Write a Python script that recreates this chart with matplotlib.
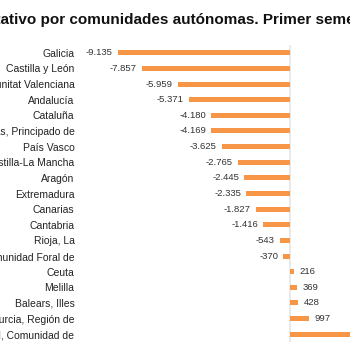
import matplotlib
matplotlib.use("Agg")
import matplotlib.pyplot as plt

plt.rcParams['font.family'] = ['Liberation Sans', 'DejaVu Sans']

title = "Crecimiento vegetativo por comunidades autónomas. Primer semestre 2019"
hidden_prefix = "Crecimiento veget"

categories = [
    "Galicia", "Castilla y León", "Comunitat Valenciana", "Andalucía", "Cataluña",
    "Asturias, Principado de", "País Vasco", "Castilla-La Mancha", "Aragón",
    "Extremadura", "Canarias", "Cantabria", "Rioja, La", "Navarra, Comunidad Foral de",
    "Ceuta", "Melilla", "Balears, Illes", "Murcia, Región de", "Madrid, Comunidad de",
]
values = [-9135, -7857, -5959, -5371, -4180, -4169, -3625, -2765, -2445,
          -2335, -1827, -1416, -543, -370, 216, 369, 428, 997, 4025]
value_labels = ["-9.135", "-7.857", "-5.959", "-5.371", "-4.180", "-4.169", "-3.625",
                "-2.765", "-2.445", "-2.335", "-1.827", "-1.416", "-543", "-370",
                "216", "369", "428", "997", "4.025"]

W = H = 350
dpi = 100
fig = plt.figure(figsize=(W / dpi, H / dpi), dpi=dpi)

px_per_unit = 18.85 / 1000
left_px, zero_px, top_px, bot_px = 80, 290, 45, 342
xmin = -(zero_px - left_px) / px_per_unit
xmax = 6000
right_px = zero_px + xmax * px_per_unit
ax = fig.add_axes([left_px / W, 1 - bot_px / H, (right_px - left_px) / W, (bot_px - top_px) / H])

y = list(range(len(categories)))
ax.barh(y, values, height=0.32, color="#F79646", zorder=2)
ax.set_xlim(xmin, xmax)
ax.set_ylim(len(categories) - 0.5, -0.5)
ax.axvline(0, color="#e6e6e6", lw=1.2, zorder=1)

for s in ax.spines.values():
    s.set_visible(False)
ax.set_xticks([])
ax.set_yticks(y)
ax.set_yticklabels(categories, fontsize=7.5, color="#222222")
ax.tick_params(axis='y', length=0, pad=4)

for yi, v, lab in zip(y, values, value_labels):
    if v < 0:
        ax.annotate(lab, (v, yi), xytext=(-3.5, 0), textcoords="offset points",
                    ha="right", va="center", fontsize=6.8, color="#333333")
    else:
        ax.annotate(lab, (v, yi), xytext=(4, 0), textcoords="offset points",
                    ha="left", va="center", fontsize=6.8, color="#333333")

renderer = fig.canvas.get_renderer()
tsize = 10.95
tmp = fig.text(0, 0, hidden_prefix, fontsize=tsize, fontweight="bold")
wpx = tmp.get_window_extent(renderer).width
tmp.remove()
fig.text((1 - wpx) / W, 1 - 24 / H, title, fontsize=tsize, fontweight="bold",
         color="#111111", ha="left", va="baseline")

fig.savefig("out.png", dpi=dpi)
